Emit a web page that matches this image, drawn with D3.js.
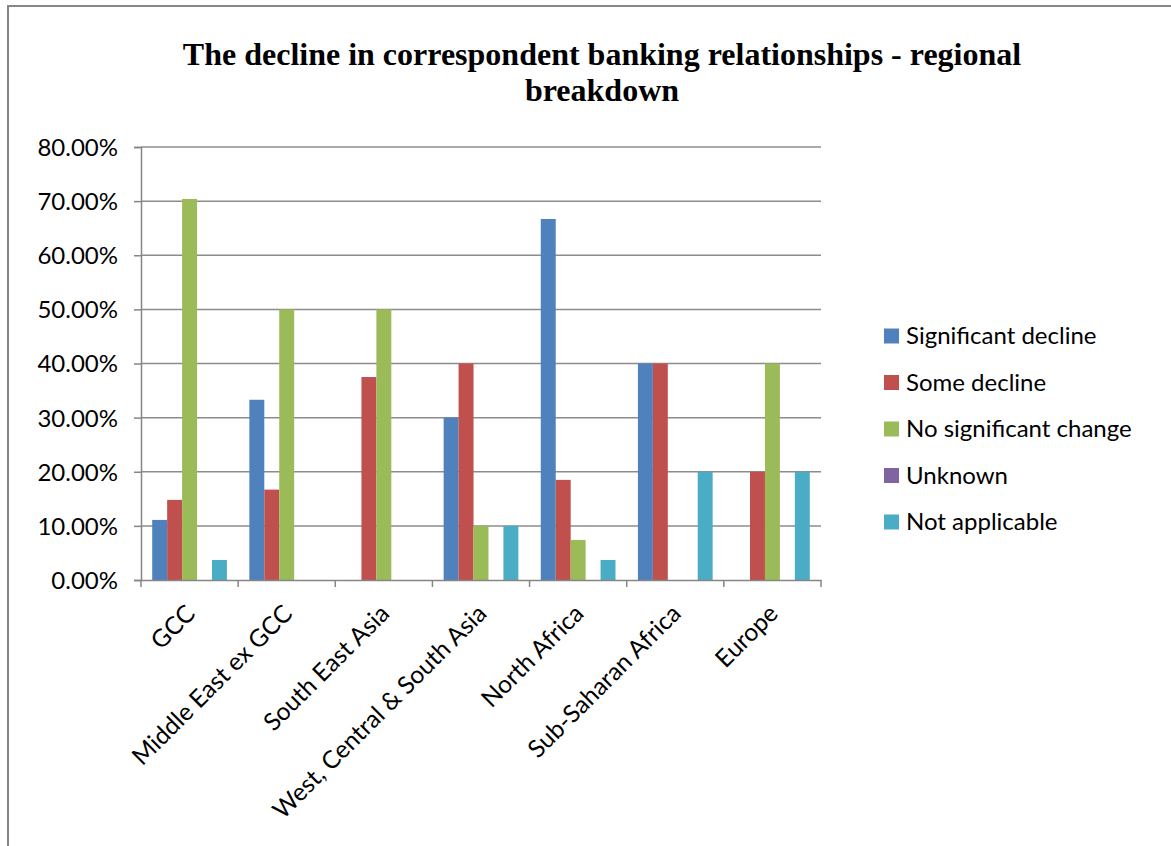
<!DOCTYPE html>
<html>
<head>
<meta charset="utf-8">
<script src="https://cdn.jsdelivr.net/npm/d3@7"></script>
<style>
  html, body { margin: 0; padding: 0; background: #fff; }
  svg { display: block; }
</style>
</head>
<body>
<svg id="chart" width="1171" height="846"></svg>
<script>
const categories = ["GCC", "Middle East ex GCC", "South East Asia", "West, Central & South Asia", "North Africa", "Sub-Saharan Africa", "Europe"];
const seriesNames = ["Significant decline", "Some decline", "No significant change", "Unknown", "Not applicable"];
const significantDecline = [0.111, 0.333, 0, 0.30, 0.667, 0.40, 0];
const someDecline = [0.148, 0.167, 0.375, 0.40, 0.185, 0.40, 0.20];
const noSignificantChange = [0.704, 0.50, 0.50, 0.10, 0.074, 0, 0.40];
const unknown = [0, 0, 0, 0, 0, 0, 0];
const notApplicable = [0.037, 0, 0, 0.10, 0.037, 0.20, 0.20];
const yTicks = [0, 0.1, 0.2, 0.3, 0.4, 0.5, 0.6, 0.7, 0.8];
const colors = ["#4F81BD", "#C0504D", "#9BBB59", "#8064A2", "#4BACC6"];
const titleLines = ["The decline in correspondent banking relationships - regional", "breakdown"];

const seriesValues = [significantDecline, someDecline, noSignificantChange, unknown, notApplicable];
const font = "Lato, 'Open Sans', sans-serif";

const svg = d3.select("#chart");

// outer frame
svg.append("path")
  .attr("d", "M8,846 L8,6 L1171,6")
  .attr("fill", "none").attr("stroke", "#868686").attr("stroke-width", 2);

// title
svg.append("g").selectAll("text").data(titleLines).join("text")
  .attr("x", 602).attr("y", (d, i) => 65 + i * 36)
  .attr("text-anchor", "middle")
  .attr("font-family", "'Liberation Serif', 'Times New Roman', serif")
  .attr("font-weight", "bold").attr("font-size", 32)
  .attr("fill", "#000")
  .text(d => d);

const pLeft = 141, pRight = 821, pTop = 147, pBottom = 580;

const x = d3.scaleBand().domain(categories).range([pLeft, pRight]).paddingInner(0).paddingOuter(0);
const y = d3.scaleLinear().domain([0, 0.8]).range([pBottom, pTop]);
const gap = 1.5; // Excel gap width 150%
const barW = x.bandwidth() / (seriesNames.length + gap);
const xs = d3.scaleBand().domain(d3.range(seriesNames.length))
  .range([barW * gap / 2, x.bandwidth() - barW * gap / 2]).padding(0);

// gridlines
svg.append("g").selectAll("line").data(yTicks.slice(1)).join("line")
  .attr("x1", pLeft).attr("x2", pRight)
  .attr("y1", d => y(d)).attr("y2", d => y(d))
  .attr("stroke", "#8c8c8c").attr("stroke-width", 1.5);

// bars
const groups = svg.append("g").selectAll("g").data(categories).join("g")
  .attr("transform", d => `translate(${x(d)},0)`);
groups.selectAll("rect")
  .data((c, ci) => seriesValues.map((vals, si) => ({ si, v: vals[ci] })))
  .join("rect")
  .attr("x", d => xs(d.si))
  .attr("width", xs.bandwidth())
  .attr("y", d => y(d.v))
  .attr("height", d => pBottom - y(d.v))
  .attr("fill", d => colors[d.si]);

// y axis
const yAxis = d3.axisLeft(y).tickValues(yTicks).tickFormat(d3.format(".2%")).tickSize(7).tickPadding(16);
const gy = svg.append("g").attr("transform", `translate(${pLeft},0)`).call(yAxis);
gy.select(".domain").attr("stroke", "#868686").attr("stroke-width", 1.5);
gy.selectAll(".tick line").attr("stroke", "#868686").attr("stroke-width", 1.5);
gy.selectAll("text").attr("font-family", font).attr("font-size", 24).attr("fill", "#000").attr("dy", "0.35em");

// x axis
const xAxis = d3.axisBottom(x).tickSize(0).tickFormat("");
const gx = svg.append("g").attr("transform", `translate(0,${pBottom})`).call(xAxis);
gx.select(".domain").attr("stroke", "#868686").attr("stroke-width", 1.5);
// boundary ticks
const boundaries = d3.range(categories.length + 1).map(i => pLeft + i * x.step());
gx.selectAll(".bt").data(boundaries).join("line")
  .attr("class", "bt")
  .attr("x1", d => d).attr("x2", d => d).attr("y1", 0).attr("y2", 7)
  .attr("stroke", "#868686").attr("stroke-width", 1.5);

// category labels
svg.append("g").selectAll("text").data(categories).join("text")
  .attr("transform", d => `translate(${x(d) + x.bandwidth() / 2 + 1},${pBottom + 29}) rotate(-45)`)
  .attr("text-anchor", "end")
  .attr("dy", "0.35em")
  .attr("font-family", font).attr("font-size", 24.5).attr("fill", "#000")
  .text(d => d);

// legend
const legend = svg.append("g").selectAll("g").data(seriesNames).join("g")
  .attr("transform", (d, i) => `translate(884,${336 + i * 46.5})`);
legend.append("rect").attr("x", 0).attr("y", -7.5).attr("width", 15).attr("height", 15)
  .attr("fill", (d, i) => colors[i]);
legend.append("text").attr("x", 22).attr("y", 0).attr("dy", "0.35em")
  .attr("font-family", font).attr("font-size", 24).attr("fill", "#000")
  .text(d => d);
</script>
</body>
</html>
